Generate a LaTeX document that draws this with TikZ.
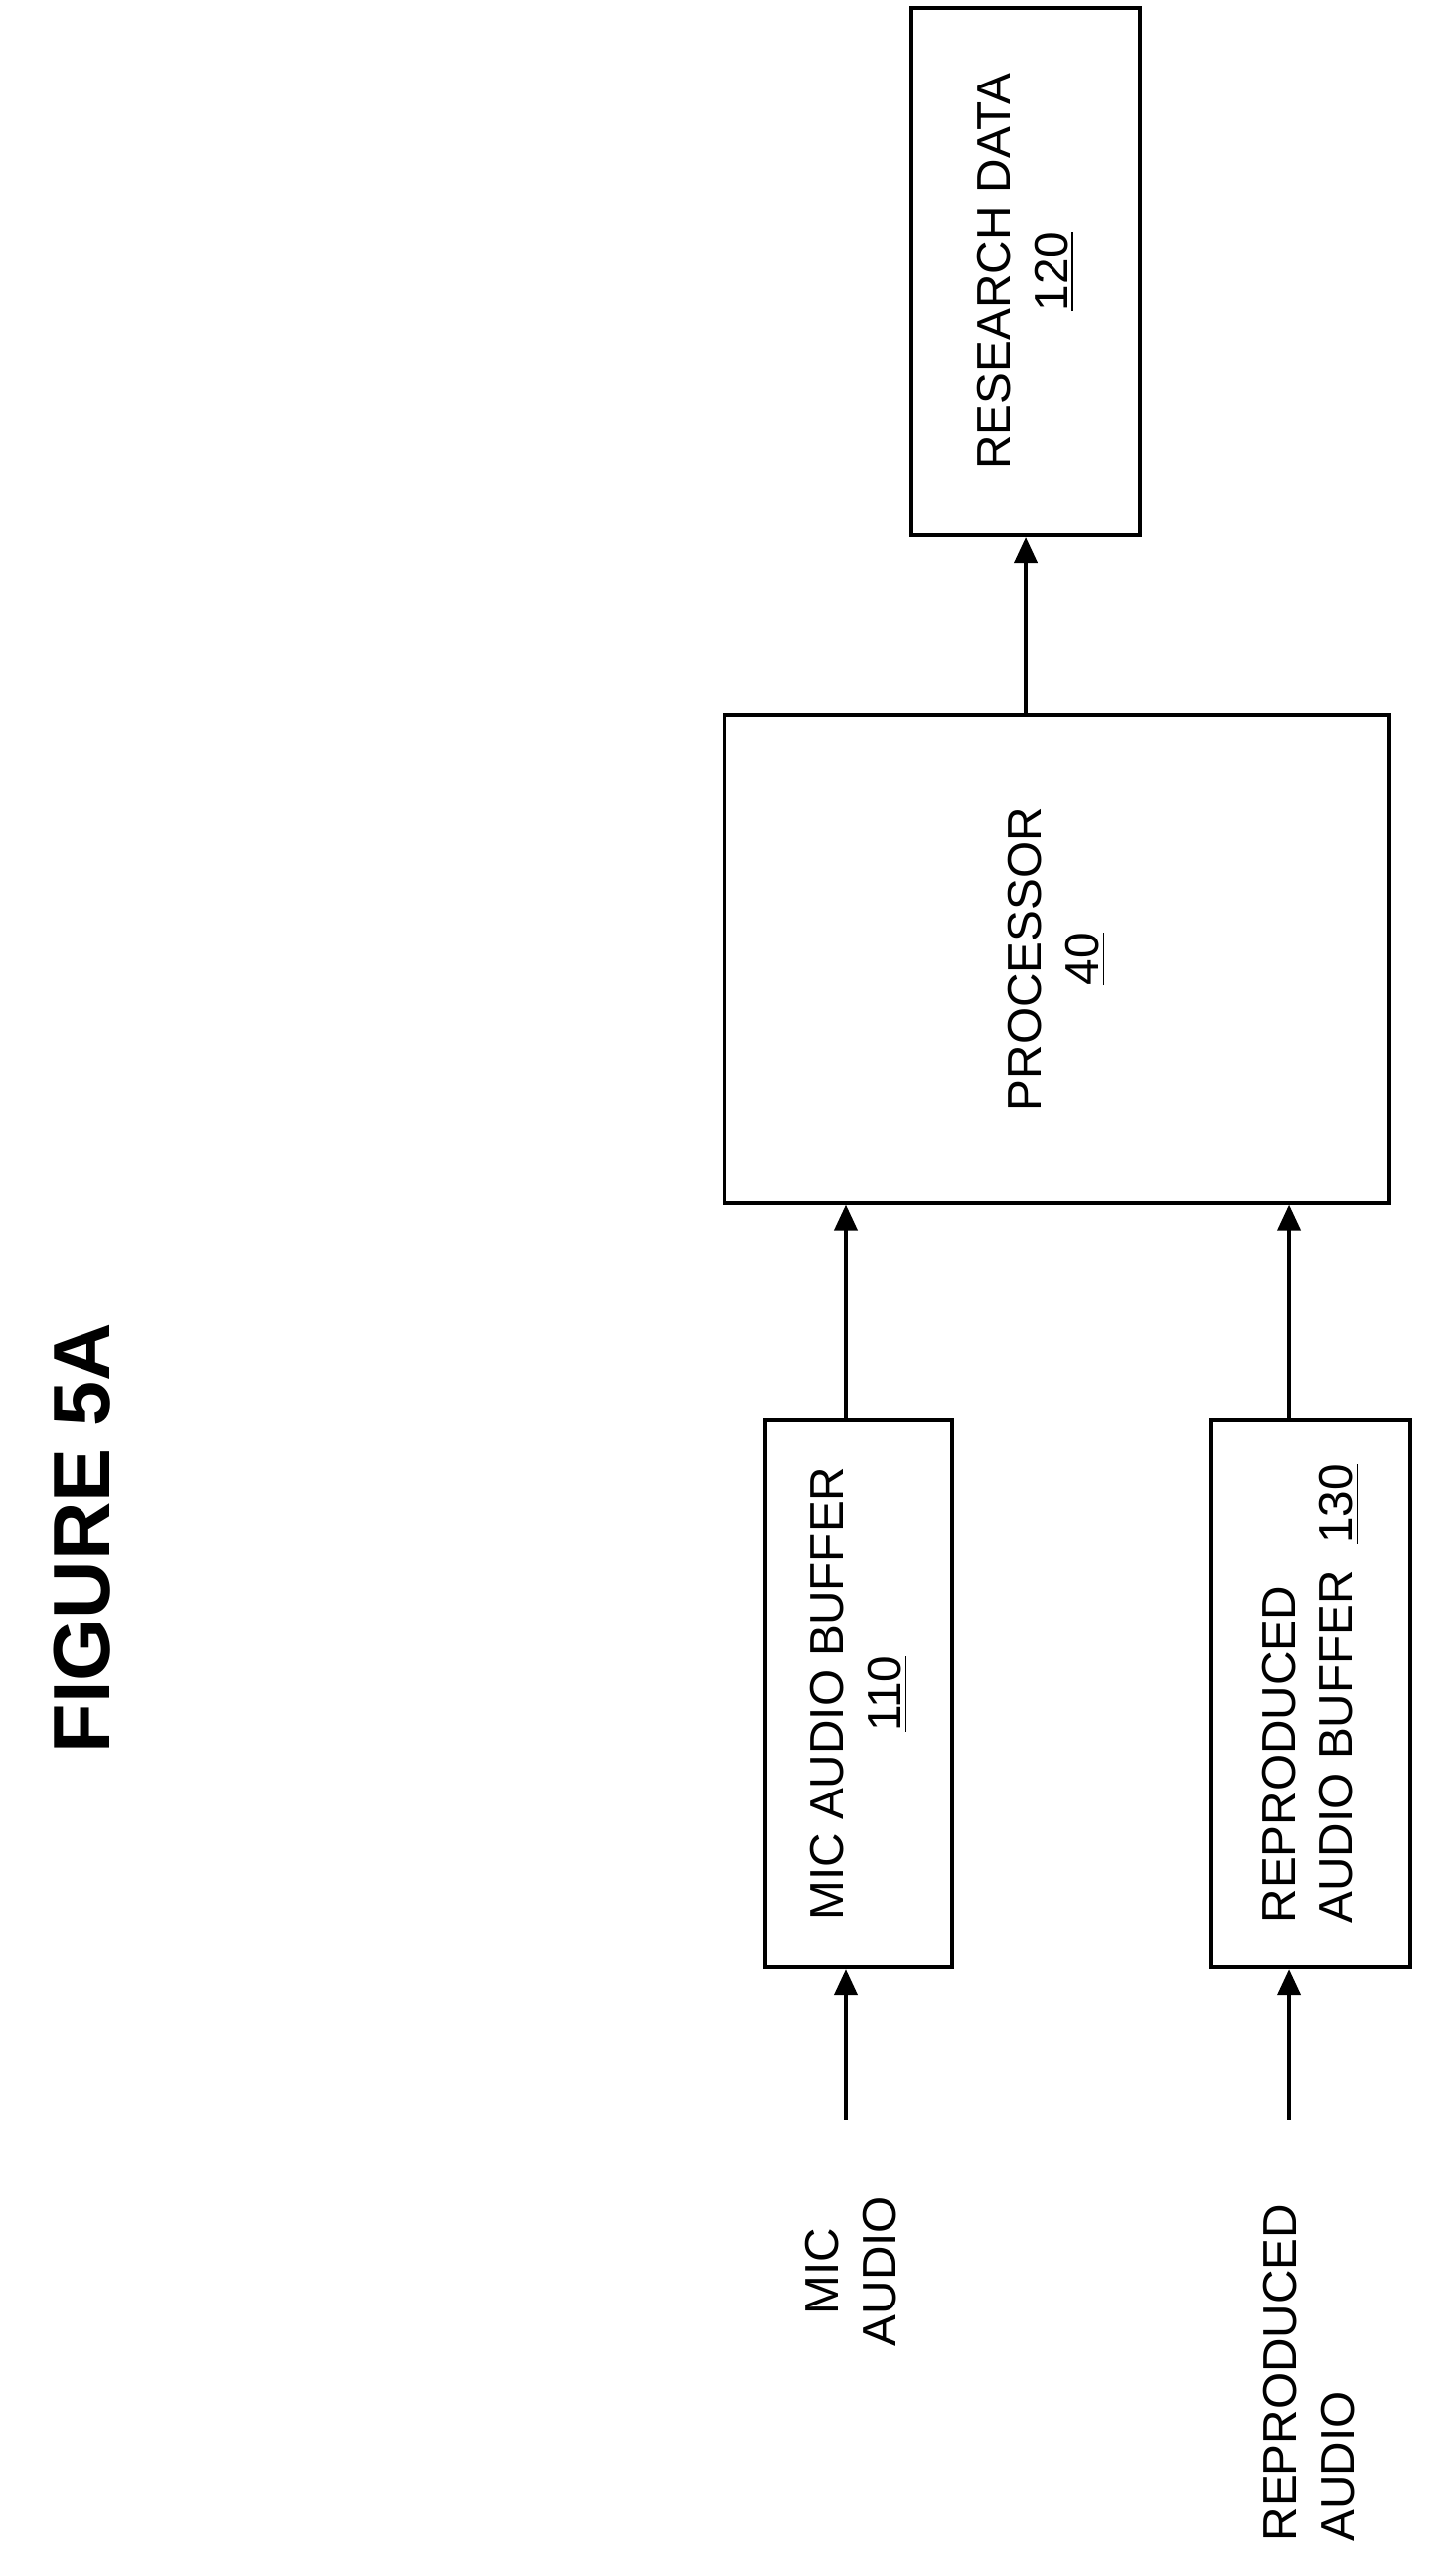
\documentclass[tikz,border=0pt]{standalone}
\usepackage{fontspec}
\setmainfont{Liberation Sans}
\usetikzlibrary{arrows.meta, positioning}

\begin{document}
\begin{tikzpicture}[
      x=0.02cm, y=-0.02cm,
      block/.style={draw, line width=1.3pt, rotate=90, align=center, font=\fontsize{16.5}{20}\selectfont, inner sep=0pt},
      label/.style={rotate=90, align=left, font=\fontsize{16.5}{20}\selectfont},
      link/.style={line width=1.3pt, -{Triangle[length=9pt, width=8pt]}}
    ]

    \useasboundingbox (0,0) rectangle (890,1565);

    % Title
    \node[rotate=90, font=\bfseries\fontsize{28}{32}\selectfont] (title) at (50,940) {FIGURE 5A};

    % Blocks
    \node[block, minimum width=6.44cm, minimum height=2.8cm] (research) at (627,166) {RESEARCH DATA\\\underline{120}};

    \node[block, minimum width=5.96cm, minimum height=8.14cm] (proc) at (646,586) {PROCESSOR\\\underline{40}};

    \node[block, minimum width=6.7cm, minimum height=2.28cm] (micbuf) at (525,1035) {MIC AUDIO BUFFER\\\underline{110}};

    \node[block, minimum width=6.7cm, minimum height=2.44cm, align=left] (repbuf) at (801,1035) {REPRODUCED\\AUDIO BUFFER\ \ \underline{130}};

    % Inputs
    \node[label, align=center] (miclbl) at (520,1388) {MIC\\AUDIO};
    \node[label] (replbl) at (800,1450) {REPRODUCED\\AUDIO};
    \coordinate (micin) at (517,1295);
    \coordinate (repin) at (788,1295);

    % Arrows
    \draw[link] (micin) -- (micin |- micbuf.west);
    \draw[link] (repin) -- (repin |- repbuf.west);
    \draw[link] (micin |- micbuf.east) -- (micin |- proc.west);
    \draw[link] (repin |- repbuf.east) -- (repin |- proc.west);
    \draw[link] (research.west |- proc.east) -- (research.west);

  \end{tikzpicture}
\end{document}
